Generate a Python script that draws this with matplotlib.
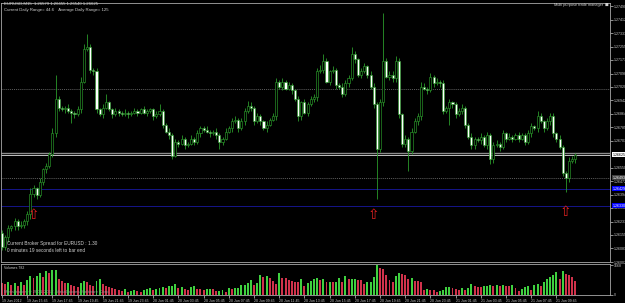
import matplotlib.pyplot as plt
from matplotlib.patches import Rectangle
import matplotlib.transforms as mtransforms

plt.rcParams['font.family'] = ['Liberation Sans', 'DejaVu Sans']

# EURUSD M15, 19 Jun 13:45 .. 21 Jun 11:15
first_open = 1.2617
closes = [
    1.2609, 1.2615, 1.2620, 1.2621, 1.2624, 1.2621, 1.2622, 1.2624, 1.2628, 1.2640,
    1.2643, 1.2639, 1.2647, 1.2654, 1.2656, 1.2663, 1.2675, 1.2695, 1.2690, 1.2689,
    1.2690, 1.2688, 1.2687, 1.2686, 1.2689, 1.2705, 1.2724, 1.2725, 1.2712, 1.2711,
    1.2689, 1.2686, 1.2690, 1.2693, 1.2689, 1.2686, 1.2688, 1.2687, 1.2686, 1.2687,
    1.2686, 1.2687, 1.2688, 1.2687, 1.2689, 1.2687, 1.2688, 1.2689, 1.2685, 1.2686,
    1.2688, 1.2680, 1.2676, 1.2674, 1.2662, 1.2670, 1.2669, 1.2672, 1.2668, 1.2669,
    1.2672, 1.2670, 1.2675, 1.2678, 1.2677, 1.2676, 1.2675, 1.2676, 1.2674, 1.2670,
    1.2672, 1.2676, 1.2678, 1.2682, 1.2683, 1.2678, 1.2682, 1.2688, 1.2691, 1.2690,
    1.2682, 1.2685, 1.2682, 1.2678, 1.2680, 1.2683, 1.2685, 1.2705, 1.2702, 1.2705,
    1.2701, 1.2703, 1.2700, 1.2695, 1.2685, 1.2693, 1.2687, 1.2692, 1.2695, 1.2696,
    1.2711, 1.2712, 1.2717, 1.2705, 1.2711, 1.2712, 1.2703, 1.2702, 1.2698, 1.2704,
    1.2707, 1.2721, 1.2718, 1.2709, 1.2711, 1.2714, 1.2709, 1.2702, 1.2692, 1.2666,
    1.2693, 1.2717, 1.2708, 1.2709, 1.2707, 1.2717, 1.2686, 1.2669, 1.2672, 1.2665,
    1.2676, 1.2682, 1.2685, 1.2702, 1.2701, 1.2700, 1.2708, 1.2704, 1.2705, 1.2704,
    1.2688, 1.2690, 1.2693, 1.2692, 1.2686, 1.2688, 1.2690, 1.2680, 1.2673, 1.2668,
    1.2672, 1.2671, 1.2673, 1.2668, 1.2674, 1.2660, 1.2668, 1.2669, 1.2667, 1.2675,
    1.2672, 1.2673, 1.2672, 1.2674, 1.2672, 1.2674, 1.2670, 1.2675, 1.2679, 1.2678,
    1.2685, 1.2682, 1.2678, 1.2682, 1.2685, 1.2675, 1.2672, 1.2667, 1.2652, 1.2649,
    1.2659, 1.2660, 1.26625,
]
# wick lengths beyond the body, in pips
wick_up = [
    2, 1, 2, 1, 2, 1, 2, 1, 2, 3, 2, 1, 2, 1, 2, 1, 3, 14, 2, 1,
    1, 2, 1, 1, 2, 3, 3, 8, 2, 1, 2, 1, 2, 5, 1, 1, 2, 1, 1, 2,
    1, 1, 2, 1, 1, 2, 1, 1, 1, 2, 4, 1, 1, 2, 1, 2, 1, 2, 1, 1,
    2, 1, 2, 1, 1, 2, 1, 1, 2, 1, 1, 2, 1, 2, 2, 1, 2, 2, 3, 2,
    1, 2, 1, 1, 2, 1, 2, 2, 1, 2, 1, 2, 1, 1, 2, 1, 2, 1, 2, 2,
    2, 3, 4, 2, 1, 2, 1, 1, 2, 2, 2, 4, 2, 1, 2, 2, 1, 2, 2, 1,
    2, 28, 2, 2, 2, 3, 2, 1, 2, 1, 2, 2, 2, 3, 2, 1, 2, 1, 2, 1,
    2, 1, 2, 1, 1, 2, 2, 1, 1, 2, 1, 1, 2, 1, 2, 1, 2, 2, 1, 2,
    1, 2, 1, 1, 2, 1, 1, 2, 2, 1, 3, 2, 1, 2, 2, 2, 1, 2, 1, 1,
    2, 2, 1,
]
wick_dn = [
    2, 2, 3, 2, 2, 2, 1, 2, 2, 3, 2, 2, 1, 2, 2, 1, 2, 2, 2, 1,
    2, 1, 6, 2, 1, 2, 1, 1, 2, 2, 2, 1, 2, 1, 1, 2, 1, 2, 1, 1,
    2, 1, 1, 2, 1, 1, 2, 1, 2, 1, 1, 2, 1, 2, 2, 1, 2, 1, 2, 1,
    1, 2, 1, 2, 1, 1, 2, 1, 2, 4, 2, 1, 1, 2, 1, 2, 1, 2, 1, 2,
    2, 1, 2, 1, 2, 1, 1, 2, 1, 2, 1, 1, 2, 1, 3, 2, 1, 2, 1, 2,
    2, 1, 2, 1, 2, 1, 2, 1, 2, 1, 2, 1, 2, 1, 2, 1, 2, 1, 2, 29,
    2, 2, 1, 2, 2, 2, 2, 2, 2, 12, 2, 1, 2, 2, 1, 2, 1, 2, 1, 2,
    2, 1, 10, 2, 2, 1, 2, 2, 1, 2, 2, 1, 2, 1, 2, 3, 2, 1, 2, 1,
    2, 1, 2, 1, 2, 1, 2, 1, 2, 1, 2, 1, 2, 1, 2, 2, 2, 1, 2, 8,
    2, 1, 2,
]
volumes = [
    667, 612, 723, 556, 667, 500, 723, 556, 834,
    1056, 945, 1056, 1223, 1001, 1334, 1223, 1390, 1402,
    890, 778, 667, 680, 556, 500, 445, 667, 778, 723, 556, 500, 778,
    890, 612, 500, 445, 389, 334, 278, 222, 334, 167,
    222, 278, 222, 167, 278, 334, 389, 278, 334, 389, 445, 389, 500, 512, 612,
    389, 445, 334, 278, 445, 500, 334,
    334, 278,
    334, 340, 330, 222, 230, 278, 167, 389, 334, 395,
    400, 556, 570, 667, 834, 556, 667, 1112, 1001, 1056,
    945, 778, 612, 1223, 945, 940, 834, 778, 723, 715,
    890, 500, 667, 778, 890, 945, 834, 890, 723, 730,
    725, 735, 945, 723, 1056, 890, 895, 900, 834, 830,
    612, 723, 730, 1001, 1668, 1501, 1495, 1112, 834, 723,
    1056, 1223, 1168, 1112, 890, 945, 778, 770, 723,
    278, 334, 278, 270, 167, 222, 278, 445, 450, 389,
    334, 278, 389, 278, 389, 612, 500, 445, 440, 500,
    510, 556, 500, 556, 500, 556, 500, 495, 556, 389,
    222, 334, 445, 500, 278, 556, 612, 500, 723, 890,
    1001, 1112, 1279, 890, 1334, 1168, 1112, 1001, 782,
]
price_ticks = [1.27490, 1.27412, 1.27333, 1.27255, 1.27177, 1.27098, 1.27020,
               1.26942, 1.26864, 1.26785, 1.26707, 1.26550, 1.26472,
               1.26394, 1.26316, 1.26237, 1.26159, 1.26081, 1.26002]
time_labels = ['19 Jun 2012', '19 Jun 15:45', '19 Jun 17:45', '19 Jun 19:45',
               '19 Jun 21:45', '19 Jun 23:45', '20 Jun 01:45', '20 Jun 03:45',
               '20 Jun 05:45', '20 Jun 07:45', '20 Jun 09:45', '20 Jun 11:45',
               '20 Jun 13:45', '20 Jun 15:45', '20 Jun 17:45', '20 Jun 19:45',
               '20 Jun 21:45', '20 Jun 23:45', '21 Jun 01:45', '21 Jun 03:45',
               '21 Jun 05:45', '21 Jun 07:45', '21 Jun 09:45']
arrow_bars = [10, 118, 179]
arrow_prices = [1.26278, 1.26278, 1.26290]
dotted_levels = [1.27009, 1.26493]
blue_levels = [1.26429, 1.26330]
bid = 1.26625
ask = 1.26638
vol_max = 1668

green = '#2a9a2a'
W, H = 625, 303

fig = plt.figure(figsize=(W / 100, H / 100), dpi=100, facecolor='black')
ax = fig.add_axes([1 / W, 1 - 262 / H, 609 / W, 259 / H], facecolor='black')
axv = fig.add_axes([1 / W, 1 - 295 / H, 609 / W, 31 / H], facecolor='black')

n = len(closes)
opens = [first_open] + closes[:-1]
for i in range(n):
    o, c = opens[i], closes[i]
    top, bot = max(o, c), min(o, c)
    ax.vlines(i, bot - wick_dn[i] * 1e-4, top + wick_up[i] * 1e-4, color=green, lw=0.6, zorder=2)
    if top - bot < 2e-5:
        ax.hlines(c, i - 0.35, i + 0.35, color=green, lw=0.6, zorder=3)
    else:
        ax.add_patch(Rectangle((i - 0.33, bot), 0.66, top - bot,
                               facecolor='black' if c > o else 'white',
                               edgecolor=green, lw=0.45, zorder=3))

for lv in dotted_levels:
    ax.axhline(lv, color='#808080', lw=0.5, ls=(0, (1.5, 1.5)), zorder=1)
for lv in blue_levels:
    ax.axhline(lv, color='#1818a0', lw=0.6, zorder=1)
ax.axhline(ask, color='#8c8c8c', lw=1.0, zorder=1)
ax.axhline(bid, color='#e0e0e0', lw=0.6, zorder=1)

for b, p in zip(arrow_bars, arrow_prices):
    ax.text(b, p, '\u21e7', family='DejaVu Sans', fontsize=10, color='#e02020',
            ha='center', va='center', zorder=4)

ax.set_xlim(-0.32, 193.0)
ax.set_ylim(1.26005, 1.27508)
ax.yaxis.tick_right()
ax.set_yticks(price_ticks)
ax.set_yticklabels([f'{v:.5f}' for v in price_ticks])
ax.tick_params(axis='y', colors='#c8c8c8', labelsize=2.6, length=2, width=0.5, pad=1)
ax.set_xticks([])

trans = mtransforms.blended_transform_factory(ax.transAxes, ax.transData)
ax.text(1.004, bid, f'{bid:.5f}', transform=trans, fontsize=2.6, color='black', va='center',
        bbox=dict(boxstyle='square,pad=0.15', fc='white', ec='none'), clip_on=False)
ax.text(1.004, dotted_levels[1], f'{dotted_levels[1]:.5f}', transform=trans, fontsize=2.6,
        color='white', va='center',
        bbox=dict(boxstyle='square,pad=0.15', fc='#404040', ec='none'), clip_on=False)
for lv in blue_levels:
    ax.text(1.004, lv, f'{lv:.5f}', transform=trans, fontsize=2.6, color='white', va='center',
            bbox=dict(boxstyle='square,pad=0.15', fc='#0000ff', ec='none'), clip_on=False)

vcol = ['#3fd03f' if i > 0 and volumes[i] > volumes[i - 1] else '#d0324b' for i in range(n)]
axv.bar(range(n), volumes, width=0.62, color=vcol, zorder=2)
axv.set_xlim(-0.32, 193.0)
axv.set_ylim(0, vol_max * 1.05)
axv.yaxis.tick_right()
axv.set_yticks([vol_max, 0])
axv.set_yticklabels([str(vol_max), '0'])
axv.tick_params(axis='y', colors='#c8c8c8', labelsize=2.6, length=2, width=0.5, pad=1)
time_bars = list(range(0, n, 8))
axv.set_xticks(time_bars)
axv.set_xticklabels(time_labels, ha='left')
axv.tick_params(axis='x', colors='#c8c8c8', labelsize=2.5, length=2, width=0.5, pad=0.8)

for a in (ax, axv):
    for s in a.spines.values():
        s.set_color('#a8a8a8')
        s.set_linewidth(0.6)

txt = dict(color='#d0d0d0', va='center', ha='left')
fig.text(4 / W, 1 - 4 / H, 'EURUSD,M15  1.26579 1.26655 1.26540 1.26625', fontsize=3.1, **txt)
fig.text(4 / W, 1 - 9.5 / H, 'Current Daily Range= 44.6    Average Daily Range= 125', fontsize=3.1, **txt)
fig.text(603 / W, 1 - 5 / H, 'Multi purpose trade manager', fontsize=2.8, color='#d0d0d0',
         va='center', ha='right')
fig.text(605 / W, 1 - 5 / H, '\u25a0', fontsize=2.8, color='#d0d0d0', va='center',
         family='DejaVu Sans')
fig.text(7 / W, 1 - 243 / H, 'Current Broker Spread for EURUSD : 1.30', fontsize=3.4, **txt)
fig.text(7 / W, 1 - 250 / H, '0 minutes 19 seconds left to bar end', fontsize=3.4, **txt)
fig.text(4 / W, 1 - 268 / H, 'Volumes 782', fontsize=2.5, **txt)
fig.text(4 / W, 1 - 292 / H, 'MetaTrader, \u00a9 2001-2012, MetaQuotes Software Corp.',
         fontsize=3.2, color='#909090', va='center', ha='left', zorder=5)

fig.savefig('out.png', dpi=100, facecolor='black')
